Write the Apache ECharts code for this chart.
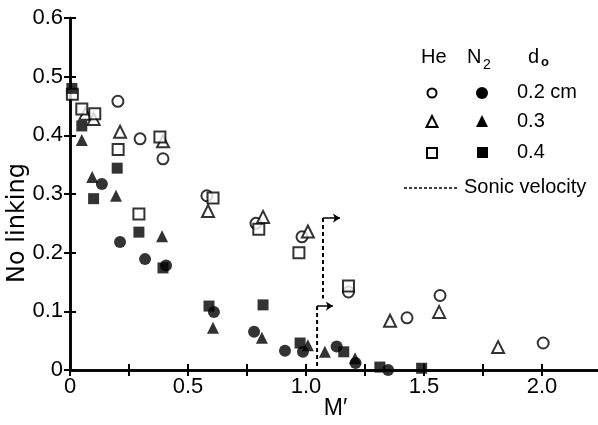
<!DOCTYPE html>
<html>
<head>
<meta charset="utf-8">
<script src="https://cdn.jsdelivr.net/npm/echarts@6/dist/echarts.min.js"></script>
<style>html,body{margin:0;padding:0;background:#fff}#c{width:598px;height:425px}</style>
</head>
<body>
<div id="c"></div>
<script>
// He (open symbols) and N2 (filled symbols), nozzle diameter d0
const heCircle = [[0.203,0.458],[0.297,0.394],[0.394,0.36],[0.58,0.297],[0.788,0.25],[0.983,0.227],[1.18,0.133],[1.428,0.089],[1.568,0.127],[2.005,0.046]];
const heTriangle = [[0.065,0.437],[0.1,0.428],[0.212,0.406],[0.394,0.39],[0.585,0.271],[0.818,0.261],[1.008,0.236],[1.356,0.084],[1.564,0.099],[1.814,0.039]];
const heSquare = [[0.01,0.47],[0.05,0.445],[0.105,0.437],[0.204,0.376],[0.292,0.266],[0.381,0.397],[0.606,0.293],[0.80,0.24],[0.97,0.2],[1.18,0.143]];
const n2Circle = [[0.135,0.317],[0.212,0.218],[0.318,0.189],[0.407,0.178],[0.61,0.099],[0.78,0.065],[0.911,0.033],[0.987,0.031],[1.13,0.04],[1.21,0.012],[1.348,0.0]];
const n2Triangle = [[0.05,0.392],[0.094,0.329],[0.195,0.297],[0.39,0.228],[0.606,0.072],[0.813,0.055],[1.008,0.042],[1.08,0.031],[1.208,0.02]];
const n2Square = [[0.008,0.48],[0.05,0.416],[0.1,0.292],[0.2,0.344],[0.292,0.235],[0.394,0.174],[0.589,0.109],[0.818,0.111],[0.975,0.046],[1.16,0.031],[1.313,0.005],[1.49,0.003]];
// Sonic velocity markers
const sonicHe = [[1.072,0.259],[1.072,0.122]];
const sonicHeArrow = [[1.072,0.259],[1.144,0.259]];
const sonicN2 = [[1.047,0.109],[1.047,0]];
const sonicN2Arrow = [[1.047,0.109],[1.114,0.109]];
const legendRows = ['0.2 cm','0.3','0.4'];

const FONT = 'Liberation Sans';
const chart = echarts.init(document.getElementById('c'));
const tickStyle = {show:true, inside:true, length:6, lineStyle:{color:'#000', width:2}};
const lineStyle = {show:true, lineStyle:{color:'#000', width:2.5}};
function xfmt(v){ const k=v/0.5; if(Math.abs(k-Math.round(k))>1e-6) return ''; return v===0?'0':v.toFixed(1); }
function yfmt(v){ return v===0?'0':v.toFixed(1); }
const open = {color:'#fff', borderColor:'#000', borderWidth:2};
const fill = {color:'#000'};
function sc(data, sym, size, style){ return {type:'scatter', data, symbol:sym, symbolSize:size, itemStyle:style, clip:false, z:3}; }

chart.setOption({
  animation:false,
  backgroundColor:'#fff',
  grid:{left:70, top:18, right:-3, bottom:55, containLabel:false, outerBoundsMode:'none'},
  xAxis:[
    {type:'value', min:0, max:2.25, interval:0.25, position:'bottom',
     axisLine:lineStyle, axisTick:tickStyle, splitLine:{show:false},
     axisLabel:{formatter:xfmt, color:'#000', fontSize:22, fontFamily:FONT, margin:6},
     name:'M\u2032', nameLocation:'middle', nameGap:27, nameMoveOverlap:false,
     nameTextStyle:{color:'#000', fontSize:23, fontFamily:FONT}},
    {type:'value', min:0, max:2.25, interval:0.25, position:'top',
     axisLine:lineStyle, axisTick:tickStyle, splitLine:{show:false}, axisLabel:{show:false}}
  ],
  yAxis:[
    {type:'value', min:0, max:0.6, interval:0.1, position:'left',
     axisLine:lineStyle, axisTick:tickStyle, splitLine:{show:false},
     axisLabel:{formatter:yfmt, color:'#000', fontSize:22, fontFamily:FONT, margin:7},
     name:'No linking', nameLocation:'middle', nameGap:40, nameRotate:90, nameMoveOverlap:false,
     nameTextStyle:{color:'#000', fontSize:24, fontFamily:'DejaVu Sans', padding:[0,58,0,0]}},
    {type:'value', min:0, max:0.6, interval:0.1, position:'right',
     axisLine:lineStyle, axisTick:tickStyle, splitLine:{show:false}, axisLabel:{show:false}}
  ],
  series:[
    sc(heCircle,'circle',11,open),
    sc(heTriangle,'triangle',12,open),
    sc(heSquare,'rect',11,open),
    sc(n2Circle,'circle',12,fill),
    sc(n2Triangle,'triangle',12,fill),
    sc(n2Square,'rect',11,fill),
    {type:'line', data:sonicHe, symbol:'none', lineStyle:{color:'#000', width:2, type:[4,3]}, z:2},
    {type:'line', data:sonicN2, symbol:'none', lineStyle:{color:'#000', width:2, type:[4,3]}, z:2},
    {type:'lines', coordinateSystem:'cartesian2d', symbol:['none','arrow'], symbolSize:7,
     lineStyle:{color:'#000', width:1.5, opacity:1},
     data:[{coords:sonicHeArrow},{coords:sonicN2Arrow}], z:2}
  ],
  graphic:[
    {type:'text', left:421, top:47, style:{text:'He', font:'20px '+FONT, fill:'#000'}},
    {type:'text', left:467, top:47, style:{text:'N', font:'20px '+FONT, fill:'#000'}},
    {type:'text', left:483, top:58, style:{text:'2', font:'14px '+FONT, fill:'#000'}},
    {type:'text', left:528, top:47, style:{text:'d', font:'20px '+FONT, fill:'#000'}},
    {type:'text', left:541, top:56, style:{text:'o', font:'bold 13px '+FONT, fill:'#000'}},
    {type:'circle', shape:{cx:432, cy:93, r:4.5}, style:{fill:'#fff', stroke:'#000', lineWidth:2}},
    {type:'circle', shape:{cx:482, cy:93, r:6}, style:{fill:'#000'}},
    {type:'polygon', shape:{points:[[432,116],[426.5,127],[437.5,127]]}, style:{fill:'#fff', stroke:'#000', lineWidth:2}},
    {type:'polygon', shape:{points:[[482,115],[476,127],[488,127]]}, style:{fill:'#000'}},
    {type:'rect', shape:{x:427, y:148, width:10, height:10}, style:{fill:'#fff', stroke:'#000', lineWidth:2}},
    {type:'rect', shape:{x:477, y:147, width:11, height:11}, style:{fill:'#000'}},
    {type:'text', left:517, top:82, style:{text:legendRows[0], font:'20px '+FONT, fill:'#000'}},
    {type:'text', left:517, top:111, style:{text:legendRows[1], font:'20px '+FONT, fill:'#000'}},
    {type:'text', left:517, top:142, style:{text:legendRows[2], font:'20px '+FONT, fill:'#000'}},
    {type:'line', shape:{x1:404, y1:188, x2:457, y2:188}, style:{stroke:'#000', lineWidth:1.5, lineDash:[3,2]}},
    {type:'text', left:464, top:177, style:{text:'Sonic velocity', font:'20px '+FONT, fill:'#000'}}
  ]
});
</script>
</body>
</html>
